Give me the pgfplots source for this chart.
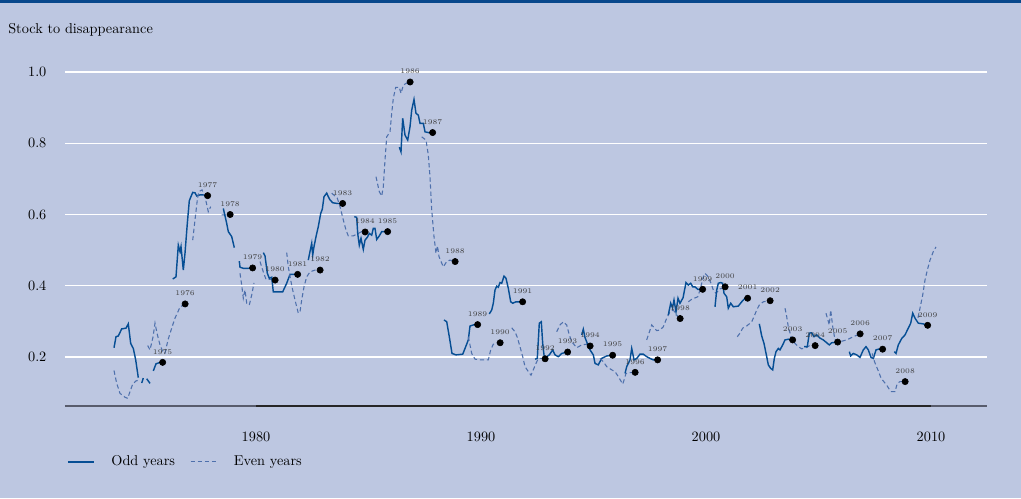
\documentclass[border=0pt]{standalone}
\usepackage{pgfplots}
\pgfplotsset{compat=1.18}

\definecolor{bgblue}{RGB}{189,199,225}
\definecolor{bandblue}{RGB}{8,72,140}
\definecolor{oddblue}{RGB}{6,78,148}
\definecolor{evenblue}{RGB}{78,112,172}
\definecolor{axisgray}{RGB}{88,92,108}

\pgfplotsset{
  oddyr/.style={color=oddblue, line width=1pt, solid, forget plot},
  evenyr/.style={color=evenblue, line width=0.75pt, dash pattern=on 3pt off 2pt, forget plot},
}

\begin{document}
\begin{tikzpicture}
% page background and top band
\path[use as bounding box] (0,0) rectangle (714.7pt,348.6pt);
\fill[bgblue] (0,0) rectangle (714.7pt,348.6pt);
\fill[bandblue] (0,346.3pt) rectangle (714.7pt,348.6pt);
\node[anchor=west, inner sep=0pt] at (5.6pt,328pt) {Stock to disappearance};

\begin{axis}[
  at={(45.5pt,64.4pt)}, anchor=south west,
  scale only axis, width=645.4pt, height=252.7pt,
  xmin=1971.511, xmax=2012.489,
  ymin=0.0625, ymax=1.0758,
  clip=false,
  axis line style={draw=none},
  major tick length=0pt,
  xtick={1980,1990,2000,2010},
  xticklabels={1980,1990,2000,2010},
  ytick={0.2,0.4,0.6,0.8,1.0},
  yticklabel style={/pgf/number format/fixed, /pgf/number format/fixed zerofill, /pgf/number format/precision=1, xshift=-9.5pt},
  xticklabel style={yshift=-14.4pt},
  ymajorgrids, grid style={white, line width=0.9pt},
  unbounded coords=jump,
  legend image code/.code={\draw[#1] (0pt,0pt) -- (18pt,0pt);},
  legend style={at={(axis description cs:0.002,-0.155)}, anchor=west,
    draw=none, fill=none, inner sep=0pt, legend columns=2,
    nodes={inner sep=3pt},
    /tikz/every odd column/.append style={column sep=9pt},
    /tikz/every even column/.append style={column sep=7.5pt}},
  legend cell align=left,
]
\addlegendimage{color=oddblue, line width=1pt, solid}
\addlegendentry{Odd years}
\addlegendimage{color=evenblue, line width=0.75pt, dash pattern=on 3pt off 2pt}
\addlegendentry{Even years}

% bottom axis line, darker over the 1980--2010 span
\draw[axisgray, line width=0.8pt] (rel axis cs:0,0) -- (rel axis cs:1,0);
\draw[black!85, line width=0.8pt] (axis cs:1980,0.0625) -- (axis cs:2010,0.0625);

% 1974
\addplot[evenyr] coordinates {(1973.689,0.162)(1973.809,0.126)(1973.956,0.098)(1974.178,0.087)(1974.298,0.084)(1974.400,0.103)(1974.520,0.124)(1974.667,0.133)(1974.813,0.135)};
% 1975
\addplot[oddyr] coordinates {(1973.689,0.226)(1973.778,0.257)(1973.880,0.259)(1974.031,0.279)(1974.222,0.281)(1974.324,0.293)(1974.431,0.238)(1974.547,0.224)(1974.653,0.192)(1974.769,0.142)
 (1974.85,nan)(1974.920,0.127)(1974.991,0.141)(1975.07,nan)(1975.142,0.139)(1975.289,0.126)(1975.36,nan)
 (1975.436,0.161)(1975.556,0.181)(1975.702,0.184)(1975.853,0.185)};
% 1976
\addplot[evenyr] coordinates {(1975.187,0.232)(1975.289,0.220)(1975.422,0.256)(1975.511,0.295)(1975.600,0.267)(1975.733,0.234)(1975.867,0.214)(1975.956,0.211)(1976.089,0.248)(1976.267,0.284)(1976.400,0.309)(1976.622,0.340)(1976.844,0.349)};
% 1977
\addplot[oddyr] coordinates {(1976.298,0.419)(1976.444,0.425)(1976.547,0.514)(1976.622,0.496)(1976.667,0.510)(1976.769,0.444)(1976.844,0.491)(1976.947,0.575)(1977.036,0.639)(1977.187,0.662)(1977.289,0.661)(1977.364,0.652)(1977.511,0.655)(1977.689,0.655)(1977.836,0.653)};
% 1978
\addplot[evenyr] coordinates {(1977.187,0.528)(1977.289,0.585)(1977.391,0.641)(1977.453,0.664)(1977.600,0.669)(1977.733,0.650)(1977.880,0.608)(1977.987,0.622)(1978.2,nan)(1978.476,0.599)(1978.667,0.599)(1978.844,0.600)};
% 1979
\addplot[oddyr] coordinates {(1978.547,0.617)(1978.698,0.575)(1978.769,0.552)(1978.920,0.538)(1979.036,0.507)(1979.15,nan)(1979.258,0.469)(1979.289,0.452)(1979.436,0.449)(1979.658,0.449)(1979.853,0.450)};
% 1980
\addplot[evenyr] coordinates {(1979.289,0.435)(1979.364,0.402)(1979.436,0.365)(1979.511,0.388)(1979.587,0.351)(1979.702,0.346)(1979.809,0.374)(1979.911,0.408)(1980.05,nan)(1980.178,0.468)(1980.324,0.439)(1980.444,0.418)(1980.622,0.418)(1980.844,0.416)};
% 1981
\addplot[oddyr] coordinates {(1980.324,0.493)(1980.400,0.484)(1980.502,0.435)(1980.591,0.421)(1980.698,0.424)(1980.769,0.383)(1981.187,0.383)(1981.364,0.407)(1981.511,0.432)(1981.853,0.432)};
% 1982
\addplot[evenyr] coordinates {(1981.364,0.493)(1981.436,0.453)(1981.542,0.416)(1981.631,0.388)(1981.733,0.360)(1981.880,0.323)(1981.956,0.327)(1982.031,0.360)(1982.133,0.397)(1982.253,0.425)(1982.400,0.439)(1982.622,0.444)(1982.844,0.444)};
% 1983
\addplot[oddyr] coordinates {(1982.324,0.472)(1982.400,0.496)(1982.476,0.519)(1982.520,0.486)(1982.578,0.510)(1982.667,0.538)(1982.769,0.566)(1982.876,0.603)(1982.947,0.615)(1983.022,0.650)(1983.142,0.660)(1983.213,0.650)(1983.289,0.641)(1983.409,0.633)(1983.613,0.631)(1983.853,0.631)};
% 1984
\addplot[evenyr] coordinates {(1983.364,0.660)(1983.613,0.646)(1983.733,0.622)(1983.880,0.585)(1984.000,0.556)(1984.102,0.540)(1984.324,0.540)(1984.547,0.547)(1984.698,0.552)(1984.844,0.552)};
% 1985
\addplot[oddyr] coordinates {(1984.369,0.594)(1984.476,0.592)(1984.520,0.547)(1984.591,0.514)(1984.667,0.533)(1984.769,0.502)(1984.844,0.528)(1984.947,0.536)(1985.036,0.547)(1985.142,0.542)(1985.213,0.561)(1985.289,0.561)(1985.364,0.530)(1985.480,0.540)(1985.587,0.552)(1985.853,0.552)};
% 1986
\addplot[evenyr] coordinates {(1985.333,0.706)(1985.480,0.664)(1985.587,0.652)(1985.658,0.678)(1985.733,0.753)(1985.809,0.818)(1985.956,0.832)(1986.031,0.884)(1986.102,0.926)(1986.209,0.957)(1986.369,0.957)(1986.444,0.940)(1986.547,0.963)(1986.667,0.968)(1986.844,0.972)};
% 1987
\addplot[oddyr] coordinates {(1986.369,0.789)(1986.444,0.776)(1986.520,0.870)(1986.622,0.823)(1986.742,0.809)(1986.844,0.846)(1986.920,0.893)(1987.022,0.923)(1987.111,0.884)(1987.213,0.879)(1987.289,0.856)(1987.436,0.856)(1987.511,0.832)(1987.658,0.830)(1987.853,0.830)};
% 1988
\addplot[evenyr] coordinates {(1987.364,0.818)(1987.556,0.809)(1987.658,0.767)(1987.733,0.706)(1987.809,0.613)(1987.911,0.538)(1988.000,0.491)(1988.067,0.512)(1988.133,0.482)(1988.324,0.453)(1988.476,0.468)(1988.622,0.472)(1988.844,0.468)};
% 1989
\addplot[oddyr] coordinates {(1988.356,0.304)(1988.476,0.299)(1988.591,0.257)(1988.711,0.210)(1988.889,0.206)(1989.187,0.208)(1989.289,0.224)(1989.436,0.248)(1989.511,0.287)(1989.658,0.290)(1989.853,0.291)};
% 1990
\addplot[evenyr] coordinates {(1989.436,0.257)(1989.587,0.210)(1989.733,0.194)(1989.956,0.192)(1990.324,0.192)(1990.431,0.220)(1990.547,0.236)(1990.844,0.240)};
% 1991
\addplot[oddyr] coordinates {(1990.369,0.321)(1990.476,0.332)(1990.547,0.351)(1990.622,0.388)(1990.698,0.399)(1990.769,0.396)(1990.844,0.409)(1990.920,0.407)(1991.022,0.427)(1991.111,0.421)(1991.213,0.393)(1991.320,0.355)(1991.409,0.351)(1991.556,0.355)(1991.853,0.355)};
% 1992
\addplot[evenyr] coordinates {(1991.364,0.282)(1991.511,0.271)(1991.613,0.255)(1991.733,0.229)(1991.853,0.201)(1991.956,0.173)(1992.102,0.159)(1992.222,0.149)(1992.324,0.164)(1992.444,0.182)(1992.547,0.196)(1992.698,0.196)(1992.844,0.195)};
% 1993
\addplot[oddyr] coordinates {(1992.400,0.194)(1992.502,0.196)(1992.591,0.295)(1992.680,0.299)(1992.742,0.238)(1992.813,0.199)(1992.920,0.201)(1993.036,0.206)(1993.187,0.220)(1993.289,0.206)(1993.436,0.201)(1993.587,0.210)(1993.836,0.214)};
% 1994
\addplot[evenyr] coordinates {(1993.364,0.271)(1993.511,0.290)(1993.658,0.299)(1993.809,0.290)(1993.924,0.262)(1994.031,0.243)(1994.253,0.226)(1994.476,0.234)(1994.698,0.236)(1994.844,0.231)};
% 1995
\addplot[oddyr] coordinates {(1994.476,0.262)(1994.547,0.278)(1994.622,0.255)(1994.724,0.238)(1994.844,0.220)(1994.991,0.206)(1995.067,0.182)(1995.213,0.178)(1995.364,0.196)(1995.587,0.203)(1995.853,0.205)};
% 1996
\addplot[evenyr] coordinates {(1995.289,0.196)(1995.436,0.187)(1995.587,0.173)(1995.809,0.164)(1995.956,0.159)(1996.102,0.145)(1996.298,0.124)(1996.356,0.135)(1996.444,0.154)(1996.622,0.156)(1996.876,0.157)};
% 1997
\addplot[oddyr] coordinates {(1996.400,0.154)(1996.476,0.173)(1996.622,0.192)(1996.698,0.224)(1996.800,0.192)(1996.920,0.196)(1997.067,0.208)(1997.213,0.208)(1997.364,0.201)(1997.511,0.196)(1997.658,0.192)(1997.853,0.192)};
% 1998
\addplot[evenyr] coordinates {(1997.364,0.248)(1997.587,0.290)(1997.809,0.274)(1997.956,0.276)(1998.102,0.285)(1998.253,0.309)(1998.400,0.327)(1998.547,0.332)(1998.698,0.318)(1998.844,0.308)};
% 1999
\addplot[oddyr] coordinates {(1998.324,0.318)(1998.431,0.351)(1998.511,0.338)(1998.578,0.360)(1998.667,0.327)(1998.756,0.365)(1998.844,0.351)(1998.978,0.366)(1999.111,0.409)(1999.213,0.402)(1999.320,0.407)(1999.409,0.397)(1999.511,0.397)(1999.631,0.390)(1999.853,0.390)};
% 2000
\addplot[evenyr] coordinates {(1999.213,0.355)(1999.364,0.362)(1999.631,0.369)(1999.733,0.388)(1999.880,0.425)(1999.956,0.435)(2000.102,0.425)(2000.222,0.407)(2000.324,0.388)(2000.444,0.379)(2000.622,0.391)(2000.844,0.397)};
% 2001
\addplot[oddyr] coordinates {(2000.400,0.341)(2000.476,0.388)(2000.547,0.407)(2000.653,0.409)(2000.742,0.407)(2000.800,0.379)(2000.920,0.369)(2000.991,0.337)(2001.098,0.351)(2001.213,0.341)(2001.436,0.343)(2001.587,0.355)(2001.733,0.365)(2001.880,0.365)};
% 2002
\addplot[evenyr] coordinates {(2001.391,0.257)(2001.511,0.267)(2001.631,0.281)(2001.809,0.287)(2002.031,0.299)(2002.133,0.313)(2002.253,0.332)(2002.369,0.346)(2002.547,0.355)(2002.844,0.358)};
% 2003
\addplot[oddyr] coordinates {(2002.369,0.293)(2002.476,0.259)(2002.578,0.238)(2002.698,0.201)(2002.769,0.178)(2002.876,0.168)(2002.964,0.164)(2003.036,0.196)(2003.111,0.215)(2003.213,0.224)(2003.289,0.220)(2003.409,0.234)(2003.511,0.248)(2003.658,0.250)(2003.853,0.248)};
% 2004
\addplot[evenyr] coordinates {(2003.511,0.337)(2003.587,0.313)(2003.667,0.281)(2003.809,0.252)(2003.956,0.238)(2004.102,0.229)(2004.253,0.223)(2004.476,0.227)(2004.653,0.234)(2004.844,0.232)};
% 2005
\addplot[oddyr] coordinates {(2004.356,0.229)(2004.502,0.229)(2004.591,0.267)(2004.698,0.268)(2004.800,0.257)(2004.920,0.262)(2005.067,0.253)(2005.213,0.248)(2005.364,0.240)(2005.480,0.234)(2005.587,0.240)(2005.853,0.242)};
% 2006
\addplot[evenyr] coordinates {(2005.333,0.323)(2005.480,0.290)(2005.542,0.332)(2005.631,0.285)(2005.733,0.248)(2005.956,0.243)(2006.253,0.248)(2006.547,0.257)(2006.844,0.265)};
% 2007
\addplot[oddyr] coordinates {(2006.369,0.215)(2006.431,0.203)(2006.547,0.210)(2006.698,0.206)(2006.844,0.199)(2006.991,0.220)(2007.111,0.229)(2007.213,0.220)(2007.333,0.199)(2007.436,0.196)(2007.556,0.220)(2007.658,0.222)(2007.853,0.222)};
% 2008
\addplot[evenyr] coordinates {(2007.387,0.210)(2007.489,0.187)(2007.636,0.164)(2007.787,0.140)(2008.031,0.121)(2008.209,0.103)(2008.400,0.103)(2008.502,0.126)(2008.622,0.131)(2008.844,0.131)};
% 2009
\addplot[oddyr] coordinates {(2008.369,0.215)(2008.444,0.210)(2008.547,0.234)(2008.698,0.252)(2008.844,0.262)(2008.991,0.281)(2009.098,0.295)(2009.187,0.323)(2009.289,0.309)(2009.436,0.295)(2009.658,0.293)(2009.853,0.289)};
% 2010
\addplot[evenyr] coordinates {(2009.422,0.310)(2009.631,0.374)(2009.733,0.416)(2009.836,0.444)(2009.956,0.472)(2010.102,0.496)(2010.222,0.509)};

% end-of-year values with labels
\addplot[only marks, mark=*, mark size=2.2pt, black, forget plot,
  nodes near coords, point meta=explicit symbolic,
  nodes near coords style={font=\fontsize{5}{6}\selectfont, text=black!75,
    anchor=south, inner sep=0pt, yshift=5.5pt}]
  table[meta=lbl] {
x y lbl
1975.85 0.185 1975
1976.85 0.349 1976
1977.85 0.653 1977
1978.85 0.600 1978
1979.85 0.450 1979
1980.85 0.416 1980
1981.85 0.432 1981
1982.85 0.444 1982
1983.85 0.631 1983
1984.85 0.551 1984
1985.85 0.552 1985
1986.85 0.972 1986
1987.85 0.830 1987
1988.85 0.468 1988
1989.85 0.291 1989
1990.85 0.240 1990
1991.85 0.355 1991
1992.85 0.195 1992
1993.85 0.214 1993
1994.85 0.231 1994
1995.85 0.205 1995
1996.85 0.157 1996
1997.85 0.192 1997
1998.85 0.308 1998
1999.85 0.390 1999
2000.85 0.397 2000
2001.85 0.365 2001
2002.85 0.358 2002
2003.85 0.248 2003
2004.85 0.232 2004
2005.85 0.242 2005
2006.85 0.265 2006
2007.85 0.222 2007
2008.85 0.131 2008
2009.85 0.289 2009
};
\end{axis}
\end{tikzpicture}
\end{document}
